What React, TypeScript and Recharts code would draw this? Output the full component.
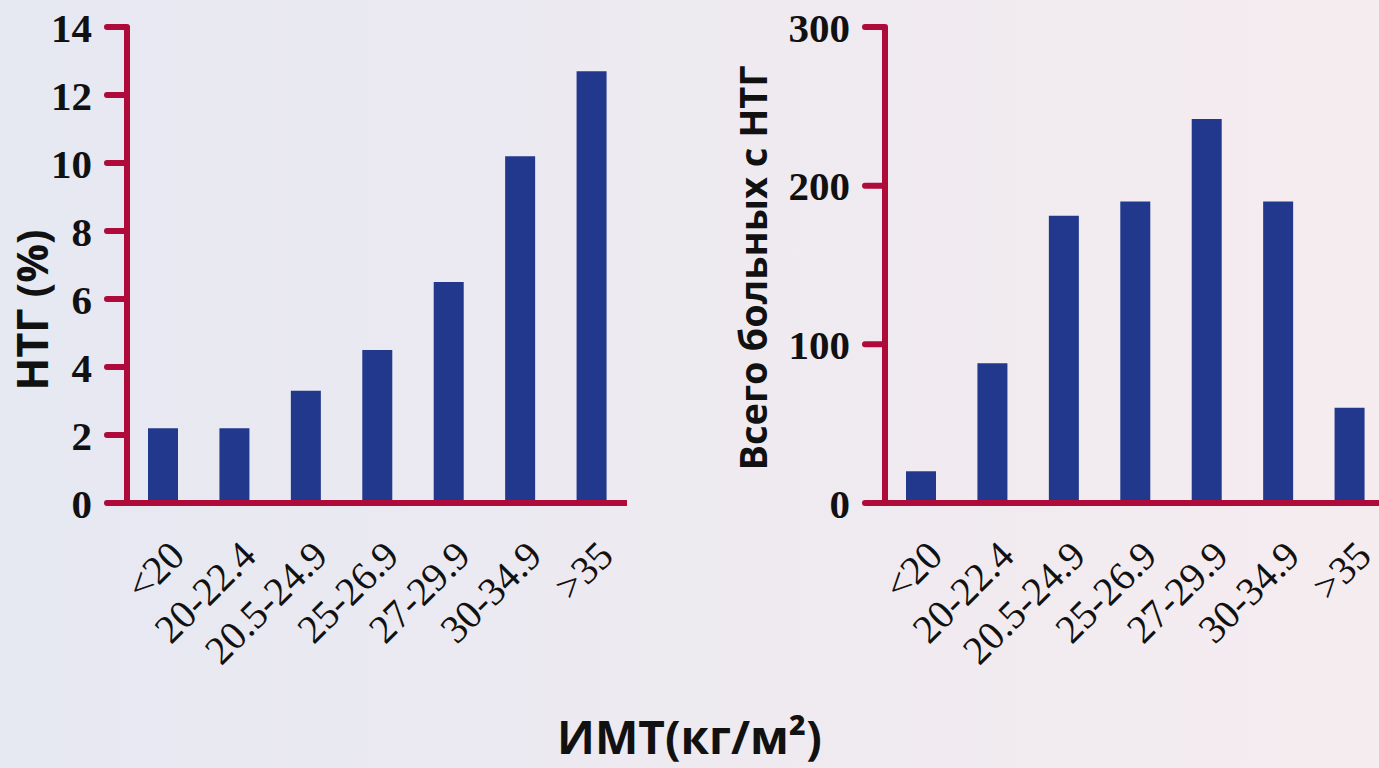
import { BarChart, Bar, XAxis, YAxis } from 'recharts';

const categories = ['<20', '20-22.4', '20.5-24.9', '25-26.9', '27-29.9', '30-34.9', '>35'];
const ntgPercent = [2.2, 2.2, 3.3, 4.5, 6.5, 10.2, 12.7];
const ntgTotal = [20, 88, 181, 190, 242, 190, 60];
const leftTicks = [0, 2, 4, 6, 8, 10, 12, 14];
const rightTicks = [0, 100, 200, 300];

const AXIS = '#ae0a3a';
const BAR = '#21388d';

const leftData = categories.map((c, i) => ({ cat: c, value: ntgPercent[i] }));
const rightData = categories.map((c, i) => ({ cat: c, value: ntgTotal[i] }));

const RotTick = ({ x, y, payload }: any) => {
  const ax = x + 24;
  const ay = y + 55;
  return (
    <text x={ax} y={ay} textAnchor="end" transform={`rotate(-45 ${ax} ${ay})`}
      fontFamily="'Liberation Serif', serif" fontSize={40} fill="#111">
      {payload.value}
    </text>
  );
};

const yTickStyle = { fill: '#111', fontSize: 41, fontWeight: 700, fontFamily: "'Liberation Serif', serif" };

const VTitle = ({ text, x, y, size }: { text: string; x: number; y: number; size: number }) => (
  <text x={x} y={y} textAnchor="middle" dominantBaseline="central" transform={`rotate(-90 ${x} ${y})`}
    fontFamily="'Open Sans', sans-serif" fontWeight={700} fontSize={size} fill="#111">
    {text}
  </text>
);

export default function App() {
  return (
    <div style={{
      position: 'absolute', left: 0, top: 0, width: 1379, height: 768, overflow: 'hidden',
      background: 'linear-gradient(to right, #e6e8f2, #f5ecef)'
    }}>
      <div style={{ position: 'absolute', left: 0, top: 0 }}>
        <BarChart width={630} height={700} data={leftData} margin={{ top: 27, right: 3, left: 0, bottom: 0 }} barSize={30}>
          <XAxis dataKey="cat" interval={0} height={197} tickSize={0} tickMargin={0} tick={<RotTick />}
            axisLine={{ stroke: AXIS, strokeWidth: 6 }} tickLine={false} />
          <YAxis width={127} domain={[0, 14]} ticks={leftTicks} interval={0} tickSize={20} tickMargin={15}
            tick={yTickStyle} axisLine={{ stroke: AXIS, strokeWidth: 6 }}
            tickLine={{ stroke: AXIS, strokeWidth: 6, strokeLinecap: 'round' }}
            label={{ content: () => <VTitle text="НТГ (%)" x={31} y={310} size={43} /> }} />
          <Bar dataKey="value" fill={BAR} isAnimationActive={false} />
        </BarChart>
      </div>
      <div style={{ position: 'absolute', left: 700, top: 0 }}>
        <BarChart width={685} height={700} data={rightData} margin={{ top: 27, right: 0, left: 0, bottom: 0 }} barSize={30}>
          <XAxis dataKey="cat" interval={0} height={197} tickSize={0} tickMargin={0} tick={<RotTick />}
            axisLine={{ stroke: AXIS, strokeWidth: 6 }} tickLine={false} />
          <YAxis width={185} domain={[0, 300]} ticks={rightTicks} interval={0} tickSize={20} tickMargin={15}
            tick={yTickStyle} axisLine={{ stroke: AXIS, strokeWidth: 6 }}
            tickLine={{ stroke: AXIS, strokeWidth: 6, strokeLinecap: 'round' }}
            label={{ content: () => <VTitle text="Всего больных с НТГ" x={52} y={268} size={38} /> }} />
          <Bar dataKey="value" fill={BAR} isAnimationActive={false} />
        </BarChart>
      </div>
      <div style={{
        position: 'absolute', left: 0, width: 1379, top: 706, textAlign: 'center',
        fontFamily: "'Open Sans', sans-serif", fontWeight: 700, fontSize: 46, color: '#111', lineHeight: '60px'
      }}>
        ИМТ(кг/м²)
      </div>
    </div>
  );
}
